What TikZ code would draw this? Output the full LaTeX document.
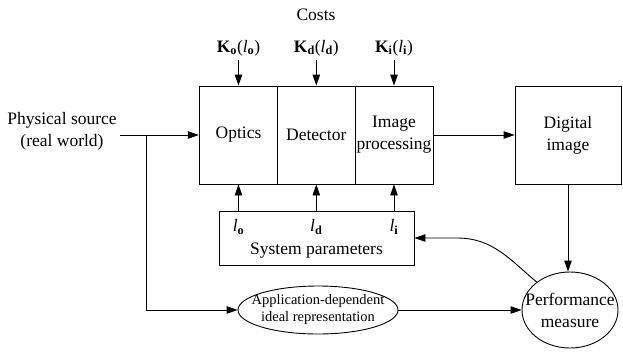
\documentclass[tikz,border=0pt]{standalone}
\usepackage{fontspec}
\setmainfont{Liberation Serif}
\usetikzlibrary{positioning, arrows.meta, shapes.geometric}

\begin{document}
\begin{tikzpicture}[font=\fontsize{17.5}{22}\selectfont, x=1pt, y=-1pt, line width=0.9pt,
  blk/.style={draw, inner sep=0pt, minimum height=98pt, align=center},
  oval/.style={draw, ellipse, inner sep=0pt},
  arr/.style={-{Triangle[length=11pt, width=7.5pt]}}]
  \useasboundingbox (0,0) rectangle (623,351);
  % the three stages of the imaging chain sit side by side
  \node (costs) at (316,15) {Costs};
  \node[blk, minimum width=78.4pt] (opt) at (238.5,135) {Optics};
  \node[blk, minimum width=77.3pt] (det) at (316.3,135) {Detector};
  \node[blk, minimum width=78pt] (proc) at (394,135) {Image\\processing};
  \node[blk, minimum width=106pt] (dig) at (568,135) {Digital\\image};
  \node (ko) at (238.5,48) {\textbf{K}\textsubscript{\textbf{o}}(\textit{l}\textsubscript{\textbf{o}})};
  \node (kd) at (316.3,48) {\textbf{K}\textsubscript{\textbf{d}}(\textit{l}\textsubscript{\textbf{d}})};
  \node (ki) at (394,48) {\textbf{K}\textsubscript{\textbf{i}}(\textit{l}\textsubscript{\textbf{i}})};
  \foreach \k/\b in {ko/opt, kd/det, ki/proc}
    \draw[arr] (\k) -- (\b);
  % parameters box below the chain
  \node[draw, minimum width=195pt, minimum height=54pt] (sys) at (316.5,238) {};
  \node (lo) at (238.5,227) {\textit{l}\textsubscript{\textbf{o}}};
  \node (ld) at (316.3,227) {\textit{l}\textsubscript{\textbf{d}}};
  \node (li) at (394,227) {\textit{l}\textsubscript{\textbf{i}}};
  \node (syslbl) at (316.5,251) {System parameters};
  \foreach \b in {opt, det, proc}
    \draw[arr] (sys.north -| \b) -- (\b.south);
  \node[align=center] (src) at (62,131) {Physical source\\(real world)};
  \node[oval, minimum width=160pt, minimum height=48pt] (app) at (318,310) {};
  \node[align=center, font=\fontsize{14.5}{17}\selectfont] (apptxt) at (app) {Application-dependent\\ideal representation};
  \node[oval, minimum width=96pt, minimum height=76pt] (perf) at (570,310) {};
  \node[align=center] (perftxt) at (perf) {Performance\\measure};
  \coordinate (br) at (146,135);
  \coordinate (bend) at (457,238);
  \draw[arr] (src.east |- opt) -- (opt);
  \draw[arr] (br) |- (app);
  \draw[arr] (proc) -- (dig);
  \draw[arr] (dig) -- (dig |- perf.north);
  \draw[arr] (app) -- (perf);
  \draw[arr] (perf.140) to[out=140, in=0] (bend) -- (sys.east);
\end{tikzpicture}
\end{document}
